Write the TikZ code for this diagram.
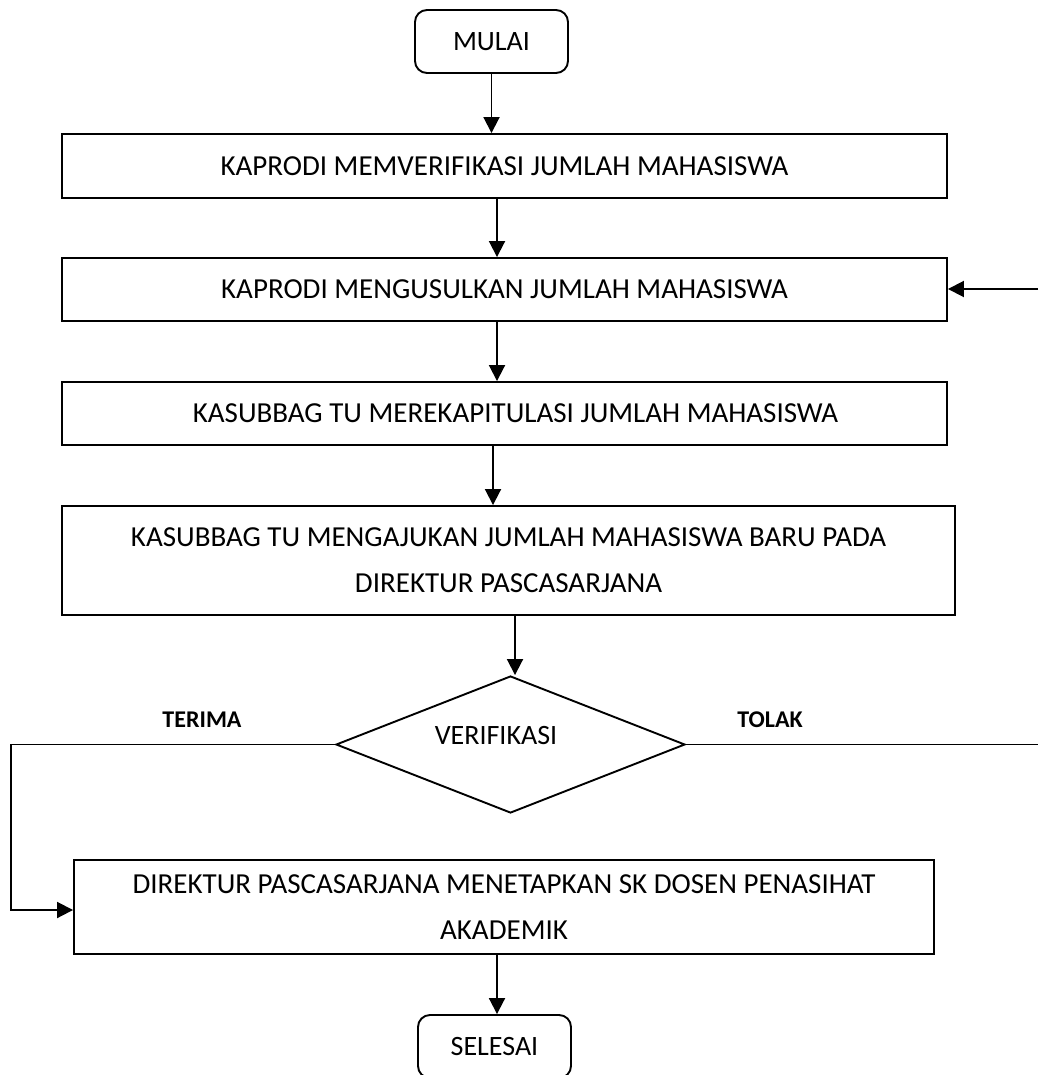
\documentclass[tikz,border=0pt]{standalone}
\usepackage{fontspec}
\setmainfont{Carlito}
\usetikzlibrary{arrows.meta,shapes.geometric}
\begin{document}
\begin{tikzpicture}[x=1pt,y=-1pt,
  line/.style={line width=1.9pt},
  box/.style={draw,line,inner sep=0pt,align=center,font=\fontsize{29}{46}\selectfont},
  term/.style={box,rounded corners=12pt,minimum width=153pt,minimum height=63pt,font=\fontsize{28}{34}\selectfont},
  arr/.style={line,-{Triangle[length=16pt,width=16pt]}},
  lbl/.style={font=\fontsize{24}{28}\selectfont\bfseries}]
\useasboundingbox (0,0) rectangle (1038,1075);
\clip (0,0) rectangle (1038,1075);

% process steps
\node[term] (start) at (491.5,41.5) {MULAI};
\node[box,minimum width=885pt,minimum height=64pt] (b1) at (504.5,166) {KAPRODI MEMVERIFIKASI JUMLAH MAHASISWA};
\node[box,minimum width=885pt,minimum height=63pt] (b2) at (504.5,289.5) {KAPRODI MENGUSULKAN JUMLAH MAHASISWA};
\node[box,minimum width=885pt,minimum height=63pt] (b3) at (504.5,413.5) {\hspace*{22pt}KASUBBAG TU MEREKAPITULASI JUMLAH MAHASISWA};
\node[box,minimum width=893pt,minimum height=109pt] (b4) at (508.5,560.5) {KASUBBAG TU MENGAJUKAN JUMLAH MAHASISWA BARU PADA\\DIREKTUR PASCASARJANA};

% decision
\node[draw,line,diamond,minimum width=349pt,minimum height=137pt,inner sep=0pt] (dec) at (510.5,744.5) {};
\node[font=\fontsize{28}{34}\selectfont] (dectext) at (496,736) {VERIFIKASI};
\node[lbl] (terima) at (202,720) {TERIMA};
\node[lbl] (tolak) at (770,720) {TOLAK};

\node[box,minimum width=860pt,minimum height=94pt] (b5) at (504,907) {DIREKTUR PASCASARJANA MENETAPKAN SK DOSEN PENASIHAT\\AKADEMIK};
\node[term] (stop) at (494.5,1046.5) {SELESAI};

% main flow
\draw[arr] (start.south) -- (start.south |- b1.north);
\draw[arr] ([xshift=-7.5pt]b1.south) -- ([xshift=-7.5pt]b1.south |- b2.north);
\draw[arr] ([xshift=-7.5pt]b2.south) -- ([xshift=-7.5pt]b2.south |- b3.north);
\draw[arr] ([xshift=-11.5pt]b3.south) -- ([xshift=-11.5pt]b3.south |- b4.north);
\draw[arr] ([xshift=6.5pt]b4.south) -- ([xshift=6.5pt]b4.south |- dec.north);
\draw[arr] ([xshift=-7pt]b5.south) -- ([xshift=-7pt]b5.south |- stop.north);

% accept branch
\coordinate (lcorner) at (11,744.5);
\coordinate (lbottom) at (11,910);
\draw[arr] (dec.west) -- (lcorner) -- (lbottom) -- (lbottom -| b5.west);

% reject branch
\coordinate (rend) at (1038,744.5);
\coordinate (rin) at (1038,289);
\draw[line] (dec.east) -- (rend);
\draw[arr] (rin) -- (rin -| b2.east);
\end{tikzpicture}
\end{document}
